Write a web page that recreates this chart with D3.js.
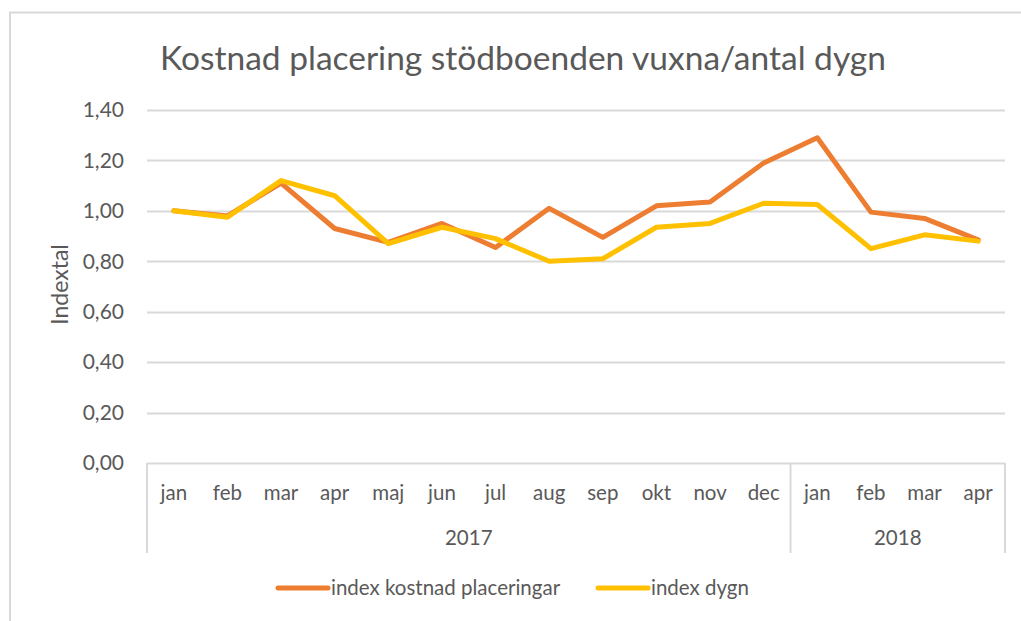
<!DOCTYPE html>
<html>
<head>
<meta charset="utf-8">
<script src="https://cdn.jsdelivr.net/npm/d3@7"></script>
<style>
  html, body { margin: 0; padding: 0; background: #fff; }
  svg { display: block; font-family: Lato, "Open Sans", sans-serif; }
</style>
</head>
<body>
<svg id="chart" width="1021" height="621"></svg>
<script>
(function () {

    var months = ["jan", "feb", "mar", "apr", "maj", "jun", "jul", "aug", "sep", "okt", "nov", "dec", "jan", "feb", "mar", "apr"],
        years = [{label: "2017", from: 0, to: 12}, {label: "2018", from: 12, to: 16}],
        kostnad = [1.00, 0.98, 1.11, 0.93, 0.875, 0.95, 0.855, 1.01, 0.895, 1.02, 1.035, 1.19, 1.29, 0.995, 0.97, 0.885],
        dygn = [1.00, 0.975, 1.12, 1.06, 0.87, 0.935, 0.89, 0.80, 0.81, 0.935, 0.95, 1.03, 1.025, 0.85, 0.905, 0.88],
        yTicks = [0, 0.2, 0.4, 0.6, 0.8, 1.0, 1.2, 1.4],
        seriesNames = ["index kostnad placeringar", "index dygn"],
        colors = ["#ed7d31", "#ffc000"];

    var svg = d3.select("#chart"),
        left = 147, right = 1005, top = 110, bottom = 463,
        textColor = "#595959",
        gridColor = "#d9d9d9";

    // outer chart frame (runs off the right and bottom edge)
    svg.append("path")
        .attr("d", "M10,640 V12.5 H1040")
        .style("fill", "none")
        .style("stroke", gridColor)
        .style("stroke-width", 2);

    svg.append("text")
        .attr("x", 523).attr("y", 70)
        .attr("text-anchor", "middle")
        .style("font-size", "33.5px")
        .style("fill", textColor)
        .text("Kostnad placering stödboenden vuxna/antal dygn");

    var x = d3.scaleBand().domain(d3.range(months.length)).range([left, right]),
        y = d3.scaleLinear().domain([0, 1.4]).range([bottom, top]);

    var fmt = function (v) { return d3.format(".2f")(v).replace(".", ","); };

    // gridlines
    svg.append("g").selectAll("line")
        .data(yTicks.slice(1))
        .enter().append("line")
        .attr("x1", left).attr("x2", right)
        .attr("y1", function (d) { return Math.round(y(d)) + 0.5; })
        .attr("y2", function (d) { return Math.round(y(d)) + 0.5; })
        .style("stroke", gridColor)
        .style("stroke-width", 2);

    // y tick labels
    svg.append("g").selectAll("text")
        .data(yTicks)
        .enter().append("text")
        .attr("x", 124)
        .attr("y", function (d) { return y(d); })
        .attr("dy", "0.35em")
        .attr("text-anchor", "end")
        .style("font-size", "21px")
        .style("fill", textColor)
        .text(fmt);

    svg.append("text")
        .attr("transform", "translate(68," + (y(0.7) - 2) + ") rotate(-90)")
        .attr("text-anchor", "middle")
        .style("font-size", "23px")
        .style("fill", textColor)
        .text("Indextal");

    // category axis with year grouping
    var axisBottom = 553;
    svg.append("line")
        .attr("x1", left).attr("x2", right)
        .attr("y1", bottom + 0.5).attr("y2", bottom + 0.5)
        .style("stroke", gridColor).style("stroke-width", 2);

    var edges = [0].concat(years.map(function (d) { return d.to; }));
    svg.append("g").selectAll("line")
        .data(edges)
        .enter().append("line")
        .attr("x1", function (d) { return d < months.length ? x(d) : right; })
        .attr("x2", function (d) { return d < months.length ? x(d) : right; })
        .attr("y1", bottom).attr("y2", axisBottom)
        .style("stroke", gridColor).style("stroke-width", 2);

    svg.append("g").selectAll("text")
        .data(months)
        .enter().append("text")
        .attr("x", function (d, i) { return x(i) + x.bandwidth() / 2; })
        .attr("y", 500)
        .attr("text-anchor", "middle")
        .style("font-size", "20.5px")
        .style("fill", textColor)
        .text(function (d) { return d; });

    svg.append("g").selectAll("text")
        .data(years)
        .enter().append("text")
        .attr("x", function (d) {
            var x1 = d.to < months.length ? x(d.to) : right;
            return (x(d.from) + x1) / 2;
        })
        .attr("y", 545)
        .attr("text-anchor", "middle")
        .style("font-size", "20.5px")
        .style("fill", textColor)
        .text(function (d) { return d.label; });

    // lines
    var line = d3.line()
        .x(function (d, i) { return x(i) + x.bandwidth() / 2; })
        .y(function (d) { return y(d); });

    [kostnad, dygn].forEach(function (s, k) {
        svg.append("path")
            .datum(s)
            .attr("d", line)
            .style("fill", "none")
            .style("stroke", colors[k])
            .style("stroke-width", 5)
            .style("stroke-linejoin", "round")
            .style("stroke-linecap", "round");
    });

    // legend
    var legendX = [278, 598];
    seriesNames.forEach(function (name, k) {
        var g = svg.append("g").attr("transform", "translate(" + legendX[k] + ",588)");
        g.append("line")
            .attr("x1", 0).attr("x2", 50)
            .style("stroke", colors[k])
            .style("stroke-width", 5)
            .style("stroke-linecap", "round");
        g.append("text")
            .attr("x", 53).attr("dy", "0.35em")
            .style("font-size", "20.5px")
            .style("fill", textColor)
            .text(name);
    });

}());
</script>
</body>
</html>
